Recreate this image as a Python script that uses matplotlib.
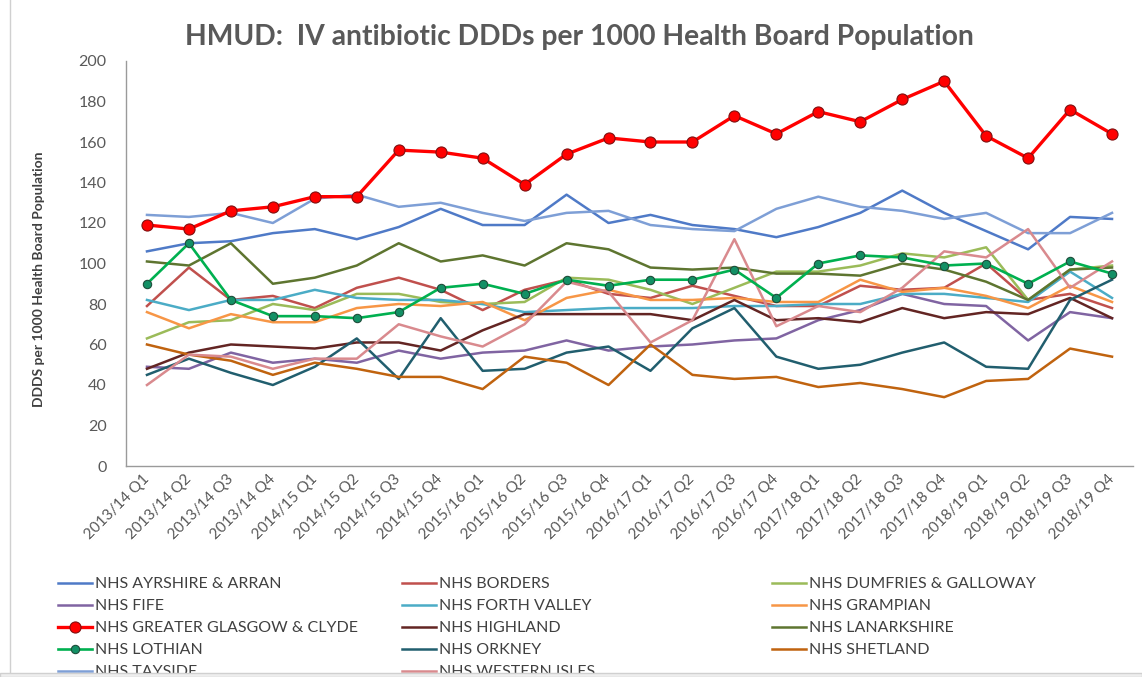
import matplotlib.pyplot as plt
from matplotlib.lines import Line2D
from matplotlib.patches import Rectangle

plt.rcParams['font.family'] = ['Lato', 'DejaVu Sans']

# Quarterly IV antibiotic DDDs per 1000 population
quarters = ['2013/14 Q1', '2013/14 Q2', '2013/14 Q3', '2013/14 Q4',
            '2014/15 Q1', '2014/15 Q2', '2014/15 Q3', '2014/15 Q4',
            '2015/16 Q1', '2015/16 Q2', '2015/16 Q3', '2015/16 Q4',
            '2016/17 Q1', '2016/17 Q2', '2016/17 Q3', '2016/17 Q4',
            '2017/18 Q1', '2017/18 Q2', '2017/18 Q3', '2017/18 Q4',
            '2018/19 Q1', '2018/19 Q2', '2018/19 Q3', '2018/19 Q4']

ayrshire = [106, 110, 111, 115, 117, 112, 118, 127, 119, 119, 134, 120,
            124, 119, 117, 113, 118, 125, 136, 125, 116, 107, 123, 122]
borders = [79, 98, 82, 84, 78, 88, 93, 87, 77, 87, 92, 85,
           83, 89, 84, 79, 79, 89, 87, 88, 100, 82, 85, 78]
dumfries = [63, 71, 72, 80, 77, 85, 85, 81, 80, 81, 93, 92,
            87, 80, 88, 96, 96, 99, 105, 103, 108, 82, 97, 99]
fife = [49, 48, 56, 51, 53, 51, 57, 53, 56, 57, 62, 57,
        59, 60, 62, 63, 72, 77, 85, 80, 79, 62, 76, 73]
forth_valley = [82, 77, 82, 82, 87, 83, 82, 82, 80, 76, 77, 78,
                78, 78, 79, 79, 80, 80, 85, 85, 83, 81, 96, 83]
grampian = [76, 68, 75, 71, 71, 78, 80, 79, 81, 72, 83, 87,
            82, 82, 83, 81, 81, 92, 86, 88, 84, 78, 89, 81]
glasgow = [119, 117, 126, 128, 133, 133, 156, 155, 152, 139, 154, 162,
           160, 160, 173, 164, 175, 170, 181, 190, 163, 152, 176, 164]
highland = [48, 56, 60, 59, 58, 61, 61, 57, 67, 75, 75, 75,
            75, 72, 82, 72, 73, 71, 78, 73, 76, 75, 83, 73]
lanarkshire = [101, 99, 110, 90, 93, 99, 110, 101, 104, 99, 110, 107,
               98, 97, 98, 95, 95, 94, 100, 97, 91, 82, 97, 98]
lothian = [90, 110, 82, 74, 74, 73, 76, 88, 90, 85, 92, 89,
           92, 92, 97, 83, 100, 104, 103, 99, 100, 90, 101, 95]
orkney = [45, 53, 46, 40, 49, 63, 43, 73, 47, 48, 56, 59,
          47, 68, 78, 54, 48, 50, 56, 61, 49, 48, 82, 92]
shetland = [60, 55, 52, 45, 51, 48, 44, 44, 38, 54, 51, 40,
            60, 45, 43, 44, 39, 41, 38, 34, 42, 43, 58, 54]
tayside = [124, 123, 125, 120, 132, 134, 128, 130, 125, 121, 125, 126,
           119, 117, 116, 127, 133, 128, 126, 122, 125, 115, 115, 125]
western_isles = [40, 55, 54, 48, 53, 53, 70, 64, 59, 70, 91, 86,
                 61, 72, 112, 69, 79, 76, 88, 106, 103, 117, 88, 101]

series = [
    ('NHS AYRSHIRE & ARRAN', ayrshire, '#4F7AC7'),
    ('NHS BORDERS', borders, '#C0504D'),
    ('NHS DUMFRIES & GALLOWAY', dumfries, '#9BBB59'),
    ('NHS FIFE', fife, '#8064A2'),
    ('NHS FORTH VALLEY', forth_valley, '#4BACC6'),
    ('NHS GRAMPIAN', grampian, '#F79646'),
    ('NHS GREATER GLASGOW & CLYDE', glasgow, '#FF0000'),
    ('NHS HIGHLAND', highland, '#632523'),
    ('NHS LANARKSHIRE', lanarkshire, '#5E7530'),
    ('NHS LOTHIAN', lothian, '#00B050'),
    ('NHS ORKNEY', orkney, '#215E6E'),
    ('NHS SHETLAND', shetland, '#C0630F'),
    ('NHS TAYSIDE', tayside, '#7E9FD6'),
    ('NHS WESTERN ISLES', western_isles, '#D98A8E'),
]

W, H = 1142, 677
fig = plt.figure(figsize=(W / 100, H / 100), dpi=100)
ax = fig.add_axes([126 / W, 1 - 466 / H, (1133 - 126) / W, (466 - 61) / H])

x = list(range(len(quarters)))
handles = {}
for name, vals, col in series:
    if name == 'NHS GREATER GLASGOW & CLYDE':
        ln, = ax.plot(x, vals, color=col, lw=2.4, marker='o', ms=8,
                      mfc='#FF0000', mec='#7F1010', mew=0.8, zorder=4)
    elif name == 'NHS LOTHIAN':
        ln, = ax.plot(x, vals, color=col, lw=1.9, marker='o', ms=6,
                      mfc='#139065', mec='#1E4D3A', mew=0.8, zorder=3)
    else:
        ln, = ax.plot(x, vals, color=col, lw=1.8, zorder=2)
    handles[name] = ln

ax.set_xlim(-0.5, len(quarters) - 0.5)
ax.set_ylim(0, 200)
ax.set_yticks(range(0, 201, 20))
ax.set_xticks(x)
ax.set_xticklabels(quarters, rotation=45, ha='right', va='center',
                   rotation_mode='anchor')
for side in ['top', 'right']:
    ax.spines[side].set_visible(False)
for side in ['left', 'bottom']:
    ax.spines[side].set_color('#9a9a9a')
    ax.spines[side].set_linewidth(1.0)
ax.tick_params(axis='y', length=0, pad=14, labelsize=11.5, labelcolor='#595959')
ax.tick_params(axis='x', length=0, pad=8, labelsize=11, labelcolor='#595959')

ax.set_ylabel('DDDS per 1000 Health Board Population', fontsize=10,
              fontweight='bold', color='#404040')
ax.yaxis.set_label_coords(-0.080, 0.46)

fig.text(579 / W, 1 - 37 / H,
         'HMUD:  IV antibiotic DDDs per 1000 Health Board Population',
         ha='center', va='center', fontsize=20.3, fontweight='bold',
         color='#595959')

# legend laid out row-wise in three fixed columns, like the original
names = [s[0] for s in series]
columns = [names[0::3], names[1::3], names[2::3]]
col_x = [58, 402, 772]
for cx, col_names in zip(col_x, columns):
    fig.legend([handles[n] for n in col_names], col_names,
               loc='upper left', bbox_to_anchor=(cx / W, 1 - 577 / H),
               frameon=False, fontsize=11.5, labelcolor='#404040',
               handlelength=2.1, handletextpad=0.2, labelspacing=0.49,
               borderpad=0, borderaxespad=0)

# outer chart frame (cut at the bottom)
fig.add_artist(Line2D([10 / W, 10 / W], [4 / H, 1], color='#d0d0d0', lw=1))
fig.patches.append(Rectangle((0, 0), 1, 4 / H, transform=fig.transFigure,
                             facecolor='#eeeeee', edgecolor='#d0d0d0',
                             lw=1, zorder=10))

fig.savefig('out.png', dpi=100)
